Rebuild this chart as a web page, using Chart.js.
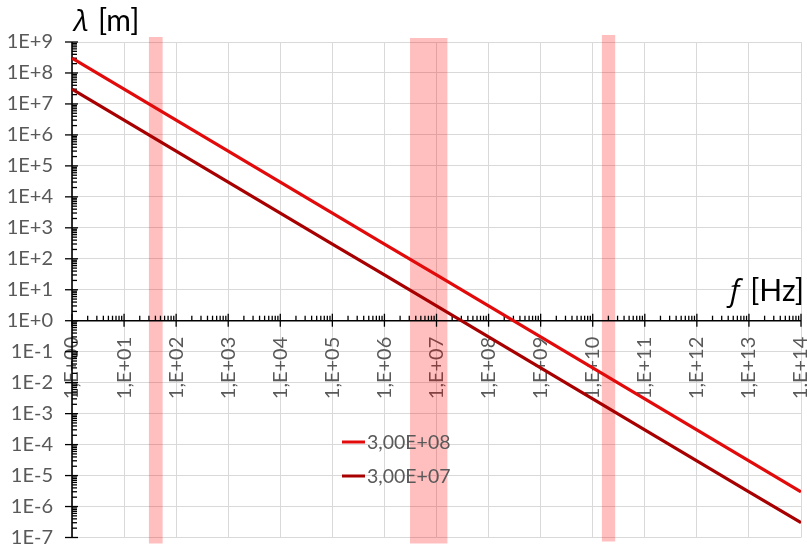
<!DOCTYPE html>
<html>
<head>
<meta charset="utf-8">
<title>Wavelength vs frequency</title>
<script src="https://cdn.jsdelivr.net/npm/chart.js@4/dist/chart.umd.min.js"></script>
<style>
  html, body { margin: 0; padding: 0; background: #ffffff; }
  #wrap { width: 807px; height: 548px; position: relative; }
</style>
</head>
<body>
<div id="wrap"><canvas id="chart"></canvas></div>
<script>
// Frequency samples [Hz], one per decade
const frequencies = [1e0, 1e1, 1e2, 1e3, 1e4, 1e5, 1e6, 1e7, 1e8, 1e9, 1e10, 1e11, 1e12, 1e13, 1e14];

// Wavelength [m] for each frequency, for the two propagation speeds
const lambdaFast = [3e8, 3e7, 3e6, 3e5, 3e4, 3e3, 3e2, 3e1, 3e0, 3e-1, 3e-2, 3e-3, 3e-4, 3e-5, 3e-6];
const lambdaSlow = [3e7, 3e6, 3e5, 3e4, 3e3, 3e2, 3e1, 3e0, 3e-1, 3e-2, 3e-3, 3e-4, 3e-5, 3e-6, 3e-7];

const seriesNames = ['3,00E+08', '3,00E+07'];

const xTickLabels = ['1,E+00', '1,E+01', '1,E+02', '1,E+03', '1,E+04', '1,E+05', '1,E+06', '1,E+07',
                     '1,E+08', '1,E+09', '1,E+10', '1,E+11', '1,E+12', '1,E+13', '1,E+14'];
const yTickValues = [1e-7, 1e-6, 1e-5, 1e-4, 1e-3, 1e-2, 1e-1, 1e0, 1e1, 1e2, 1e3, 1e4, 1e5, 1e6, 1e7, 1e8, 1e9];
const yTickLabels = ['1E-7', '1E-6', '1E-5', '1E-4', '1E-3', '1E-2', '1E-1', '1E+0',
                     '1E+1', '1E+2', '1E+3', '1E+4', '1E+5', '1E+6', '1E+7', '1E+8', '1E+9'];

// Highlighted frequency bands [Hz]
const bandStart = [30, 3.1e6, 1.5e10];
const bandEnd   = [55, 1.62e7, 2.7e10];

const LABEL_GRAY = '#595959';
const GRID_GRAY = '#d9d9d9';
const TICK_FONT = { family: 'Lato', size: 20 };

function toPoints(xs, ys) {
  return xs.map((x, i) => ({ x: x, y: ys[i] }));
}

function strokeLine(ctx, x1, y1, x2, y2) {
  ctx.beginPath();
  ctx.moveTo(x1, y1);
  ctx.lineTo(x2, y2);
  ctx.stroke();
}

// keep the plot area fixed by the layout padding alone
function noScalePadding(s) {
  s.paddingLeft = 0;
  s.paddingRight = 0;
  s.paddingTop = 0;
  s.paddingBottom = 0;
}

const decorations = {
  id: 'decorations',
  beforeDatasetsDraw(chart) {
    const { ctx, chartArea: a, scales: { x, y } } = chart;
    ctx.save();

    // shaded bands
    ctx.fillStyle = 'rgba(255, 0, 0, 0.25)';
    const tops = [5, 4, 7];
    const bottoms = [6, 6, 4];
    bandStart.forEach((f0, i) => {
      const x1 = x.getPixelForValue(f0);
      const x2 = x.getPixelForValue(bandEnd[i]);
      ctx.fillRect(x1, a.top - tops[i], x2 - x1, (a.bottom + bottoms[i]) - (a.top - tops[i]));
    });

    // axis lines crossing at f = 1 Hz, lambda = 1 m
    const ax = x.getPixelForValue(frequencies[0]);
    const ay = y.getPixelForValue(1);
    ctx.strokeStyle = '#000000';
    ctx.lineWidth = 1.6;
    strokeLine(ctx, ax, a.top, ax, a.bottom);
    strokeLine(ctx, a.left, ay, a.right, ay);

    ctx.lineWidth = 1.3;
    // vertical axis: major ticks cross, minor ticks point inward
    const yVals = y.ticks.map(t => t.value);
    yVals.forEach((v, i) => {
      const p = y.getPixelForValue(v);
      strokeLine(ctx, ax - 7, p, ax + 6, p);
      if (i < yVals.length - 1) {
        for (let k = 2; k <= 9; k++) {
          const q = y.getPixelForValue(v * k);
          strokeLine(ctx, ax, q, ax + 5, q);
        }
      }
    });
    // horizontal axis
    const xVals = x.ticks.map(t => t.value);
    xVals.forEach((v, i) => {
      const p = x.getPixelForValue(v);
      strokeLine(ctx, p, ay - 7, p, ay + 6);
      if (i < xVals.length - 1) {
        for (let k = 2; k <= 9; k++) {
          const q = x.getPixelForValue(v * k);
          strokeLine(ctx, q, ay - 5, q, ay);
        }
      }
    });
    ctx.restore();
  },
  afterDraw(chart) {
    const { ctx } = chart;
    ctx.save();
    ctx.fillStyle = '#000000';
    ctx.textBaseline = 'alphabetic';

    // axis titles
    ctx.textAlign = 'left';
    ctx.font = 'italic 30px "Open Sans"';
    ctx.fillText('λ', 74, 31);
    ctx.font = '30px Lato';
    ctx.fillText('[m]', 98, 31);

    ctx.font = 'italic 30px "Open Sans"';
    ctx.fillText('f', 730, 301);
    ctx.font = '30px Lato';
    ctx.textAlign = 'right';
    ctx.fillText('[Hz]', 804, 301);

    // legend
    ctx.textAlign = 'left';
    ctx.font = '19.5px Lato';
    ctx.textBaseline = 'middle';
    const rows = [442, 476];
    chart.data.datasets.forEach((ds, i) => {
      ctx.strokeStyle = ds.borderColor;
      ctx.lineWidth = 3;
      strokeLine(ctx, 342, rows[i], 365, rows[i]);
      ctx.fillStyle = LABEL_GRAY;
      ctx.fillText(ds.label, 367, rows[i] + 1);
    });
    ctx.restore();
  }
};

new Chart(document.getElementById('chart'), {
  type: 'line',
  data: {
    datasets: [
      {
        label: seriesNames[0],
        data: toPoints(frequencies, lambdaFast),
        borderColor: '#e20a0a',
        borderWidth: 3.2,
        pointRadius: 0,
        tension: 0
      },
      {
        label: seriesNames[1],
        data: toPoints(frequencies, lambdaSlow),
        borderColor: '#a80000',
        borderWidth: 3.2,
        pointRadius: 0,
        tension: 0
      }
    ]
  },
  options: {
    responsive: true,
    maintainAspectRatio: false,
    animation: false,
    events: [],
    layout: { padding: { top: 42, right: 6, bottom: 10.5, left: 0 } },
    plugins: {
      legend: { display: false },
      tooltip: { enabled: false },
      title: { display: false }
    },
    scales: {
      x: {
        type: 'logarithmic',
        min: frequencies[0],
        max: frequencies[frequencies.length - 1],
        position: { y: 1 },
        afterBuildTicks: s => { s.ticks = frequencies.map(v => ({ value: v })); },
        afterFit: noScalePadding,
        border: { display: false },
        grid: { color: GRID_GRAY, lineWidth: 1, drawTicks: false },
        ticks: {
          autoSkip: false,
          minRotation: 90,
          maxRotation: 90,
          padding: 16,
          color: LABEL_GRAY,
          font: TICK_FONT,
          callback: (v, i) => xTickLabels[i]
        }
      },
      y: {
        type: 'logarithmic',
        min: yTickValues[0],
        max: yTickValues[yTickValues.length - 1],
        position: 'left',
        afterBuildTicks: s => { s.ticks = yTickValues.map(v => ({ value: v })); },
        afterFit: s => { noScalePadding(s); s.width = 72; },
        border: { display: false },
        grid: { color: GRID_GRAY, lineWidth: 1, drawTicks: false },
        ticks: {
          padding: 19,
          color: LABEL_GRAY,
          font: TICK_FONT,
          callback: (v, i) => yTickLabels[i]
        }
      }
    }
  },
  plugins: [decorations]
});
</script>
</body>
</html>
